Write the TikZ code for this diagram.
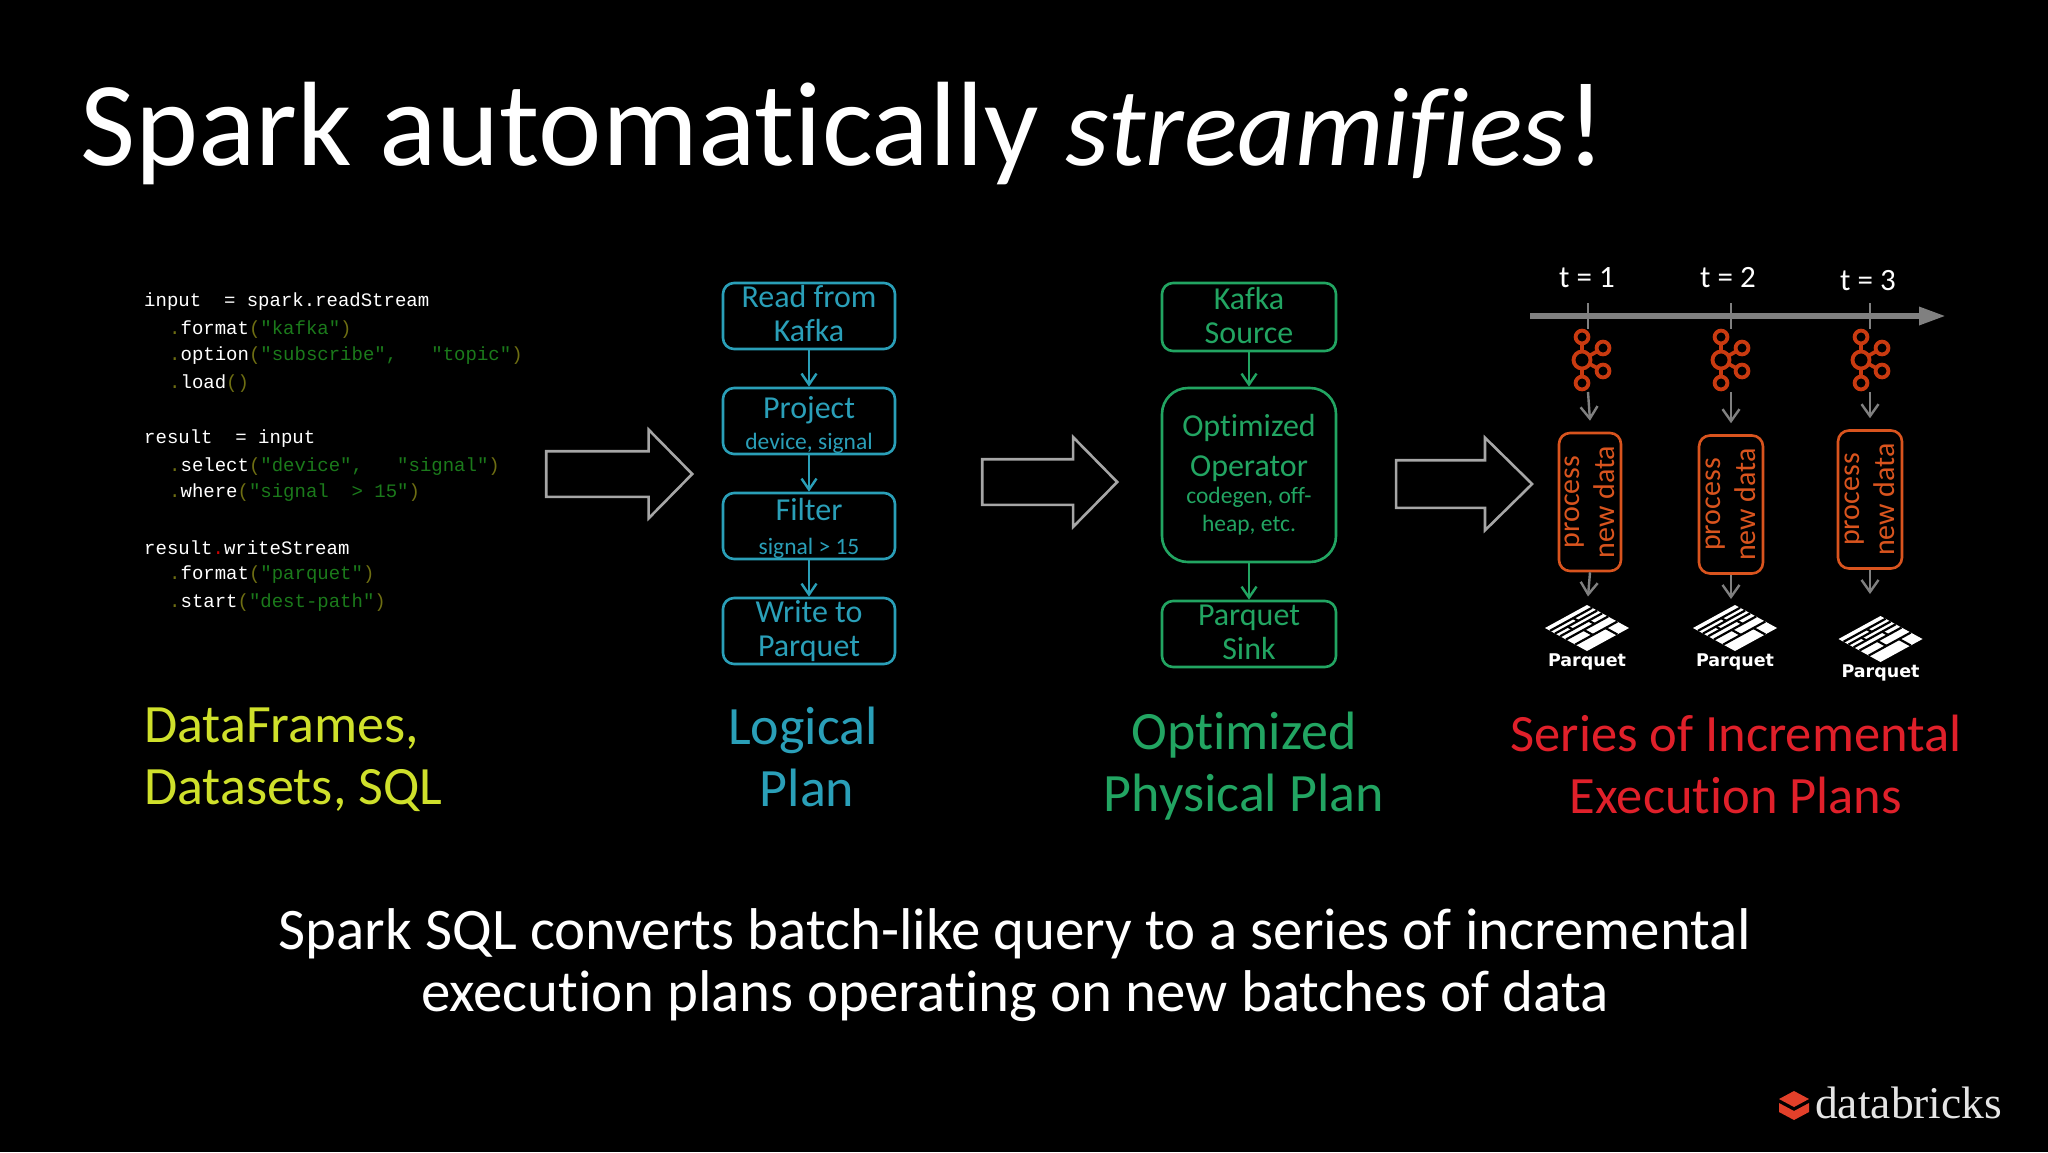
\documentclass[tikz,border=0pt]{standalone}
\usepackage{fontspec}
\setmainfont{Carlito}[Ligatures=NoCommon]
\newfontfamily\codefont{Liberation Mono}
\newfontfamily\pqfont{DejaVu Sans}
\newfontfamily\logofont{Liberation Serif}
\usepackage{xcolor}
\definecolor{lplan}{HTML}{2A9FB8}
\definecolor{pplan}{HTML}{22A562}
\definecolor{ylw}{HTML}{CFE02B}
\definecolor{iplan}{HTML}{E0202A}
\definecolor{org}{HTML}{D9541E}
\definecolor{kfk}{HTML}{C93A10}
\definecolor{str}{HTML}{1B7A1B}
\definecolor{par}{HTML}{6E6E12}
\definecolor{dbr}{HTML}{E2402A}
\usetikzlibrary{arrows.meta, positioning, calc, shapes.arrows}
\tikzstyle{lblock} = [draw=lplan, text=lplan, line width=2.6pt, rounded corners=11pt, minimum width=172pt, minimum height=66pt, inner sep=0pt, align=center, font=\fontsize{32}{34}\selectfont]
\tikzstyle{pblock} = [draw=pplan, text=pplan, line width=2.6pt, rounded corners=11pt, minimum width=174pt, minimum height=66pt, inner sep=0pt, align=center, font=\fontsize{32}{34}\selectfont]
\tikzstyle{iblock} = [draw=org, text=org, line width=2.6pt, rounded corners=11pt, rotate=90, minimum width=138pt, inner sep=0pt, align=center, font=\fontsize{30}{35}\selectfont]
\tikzstyle{conv} = [draw=black!35, line width=2.6pt, single arrow, single arrow head indent=0pt, inner sep=0pt, anchor=center]
\tikzstyle{big} = [align=center, inner sep=0pt]
\tikzstyle{code} = [font=\codefont\fontsize{19}{20}\selectfont, text=white, anchor=base west, inner sep=0pt]
\tikzstyle{flow} = [-{Straight Barb[length=11pt,width=15pt]}, line width=2.4pt]
\tikzstyle{tflow} = [-{Straight Barb[length=12pt,width=17pt]}, line width=2.4pt, draw=black!50]
\newcommand{\cs}[1]{\textcolor{str}{#1}}
\newcommand{\cp}[1]{\textcolor{par}{#1}}
\newcommand{\sml}[1]{{\fontsize{23.5}{27}\selectfont #1}}
\begin{document}
\begin{tikzpicture}[x=1pt,y=-1pt]
    \useasboundingbox (0,0) rectangle (2048,1152);
    \fill[black] (0,0) rectangle (2048,1152);

    % title
    \node[anchor=base west, inner sep=0pt, text=white, font=\fontsize{120}{120}\selectfont] (title) at (80,165)
    {Spark automatically {\fontsize{112}{120}\selectfont\textit{streamifies}}!};

    % code
    \node[code] (c1) at (144,306) {input~~=~spark.readStream};
    \node[code] (c2) at (169,334) {\cp{.}format\cp{(}\cs{"kafka"}\cp{)}};
    \node[code] (c3) at (169,360) {\cp{.}option\cp{(}\cs{"subscribe",~~~"topic"}\cp{)}};
    \node[code] (c4) at (169,388) {\cp{.}load\cp{()}};
    \node[code] (c5) at (144,443) {result~~=~input};
    \node[code] (c6) at (169,471) {\cp{.}select\cp{(}\cs{"device",~~~"signal"}\cp{)}};
    \node[code] (c7) at (169,497) {\cp{.}where\cp{(}\cs{"signal~~>~15"}\cp{)}};
    \node[code] (c8) at (144,554) {result\textcolor{red!80!black}{.}writeStream};
    \node[code] (c9) at (169,579) {\cp{.}format\cp{(}\cs{"parquet"}\cp{)}};
    \node[code] (c10) at (169,607) {\cp{.}start\cp{(}\cs{"dest-path"}\cp{)}};

    % big arrows
    \node[conv, minimum height=146pt, single arrow head extend=21.5pt, single arrow tip angle=91] (arr1) at (608,474) {\rule{0pt}{43pt}};
    \node[conv, minimum height=135pt, single arrow head extend=22pt, single arrow tip angle=91] (arr2) at (1038.5,482) {\rule{0pt}{43pt}};
    \node[conv, minimum height=136pt, single arrow head extend=22.5pt, single arrow tip angle=89] (arr3) at (1452,484) {\rule{0pt}{45pt}};

    % logical plan
    \node[lblock, text depth=6pt] (read) at (809,316) {Read from\\Kafka};
    \node[lblock, text height=62pt] (proj) at (809,421) {Project\\[-3pt]\sml{device, signal}};
    \node[lblock, text height=61pt] (filt) at (809,526) {Filter\\\sml{signal > 15}};
    \node[lblock] (writ) at (809,631) {Write to\\Parquet};
    \draw[flow, draw=lplan] (read) -- (proj);
    \draw[flow, draw=lplan] (proj) -- (filt);
    \draw[flow, draw=lplan] (filt) -- (writ);

    % physical plan
    \node[pblock, minimum height=68pt, text depth=4pt] (ksrc) at (1249,317) {Kafka\\Source};
    \node[pblock, minimum height=174pt, rounded corners=26pt, font=\fontsize{32}{40}\selectfont] (oper) at (1249,475)
    {Optimized\\Operator\\[-13pt]\sml{codegen, off-}\\[-12pt]\sml{heap, etc.}};
    \node[pblock, text depth=4pt] (sink) at (1249,634) {Parquet\\Sink};
    \draw[flow, draw=pplan] (ksrc) -- (oper);
    \draw[flow, draw=pplan] (oper) -- (sink);

    % timeline
    \coordinate (tl0) at (1530,316);
    \coordinate (tl1) at (1946,316);
    \draw[draw=black!50, line width=6pt, -{Triangle[length=27pt,width=17pt]}] (tl0) -- (tl1);

    % one batch per tick
    \foreach \tx/\t/\lx/\bx/\by/\kx/\px/\py in {1588/1/1587/1590/502/1582/1587/628, 1731/2/1728/1731/504.5/1721/1735/628, 1870/3/1868/1870/499.5/1861/1880.5/639} {
        \coordinate (tk\t a) at (\tx,303);
        \coordinate (tk\t b) at (\tx,329);
        \draw[draw=black!50, line width=2.4pt] (tk\t a) -- (tk\t b);
        \node[text=white, font=\fontsize{31}{31}\selectfont, inner sep=0pt] (lab\t) at (\lx,{\t==3 ? 281 : 278}) {t = \t};
        % kafka logo
        \coordinate (kfk\t) at (\tx,392);
        \begin{scope}[shift={(\kx,360)}, draw=kfk, line width=3.8pt]
            \draw (0,0) circle (8.5pt);
            \foreach \ox/\oy in {0/-23, 21/-12, 21/11, 0/23} {
                \draw ({\ox*0.37},{\oy*0.37}) -- ({\ox*0.72},{\oy*0.72});
                \draw (\ox,\oy) circle (6.4pt);
            }
        \end{scope}
        % process box
        \node[iblock, minimum height={\t==1 ? 62pt : 64pt}] (proc\t) at (\bx,\by) {process\\new data};
        \coordinate (out\t) at (\tx,{\by+94.5});
        \draw[tflow] (kfk\t) -- ($(proc\t.east)+(0,-11)$);
        \draw[tflow] (proc\t.west) -- (out\t);
        % parquet logo
        \begin{scope}[shift={(\px,\py)}]
            \fill[white] (-42,0) -- (0,-23) -- (42,0) -- (0,23) -- cycle;
            \foreach \s in {0.12,0.24,0.36,0.5,0.72}
                \draw[black, line width=2.2pt] ($(-42,0)!\s!(0,23)$) -- ($(0,-23)!\s!(42,0)$);
            \foreach \a/\b/\c in {0.12/0.24/0.55, 0.24/0.36/0.3, 0.36/0.5/0.68, 0.5/0.72/0.42, 0.72/1/0.72}
                \draw[black, line width=2.2pt]
                    ($($(-42,0)!\a!(0,23)$)!\c!($(0,-23)!\a!(42,0)$)$) -- ($($(-42,0)!\b!(0,23)$)!\c!($(0,-23)!\b!(42,0)$)$);
        \end{scope}
        \node[text=white, inner sep=0pt, font=\pqfont\bfseries\fontsize{17.5}{18}\selectfont] (pq\t) at (\px,{\py+34}) {Parquet};
    }

    % captions
    \node[big, text=ylw, align=left, anchor=west, font=\fontsize{54}{62}\selectfont] (cap1) at (144,760) {DataFrames,\\Datasets, SQL};
    \node[big, text=lplan, font=\fontsize{54}{62}\selectfont] (cap2) at (803,757) {Logical\\\hspace*{8pt}Plan};
    \node[big, text=pplan, font=\fontsize{54}{62}\selectfont] (cap3) at (1244,766) {Optimized\\Physical Plan};
    \node[big, text=iplan, font=\fontsize{52.5}{62}\selectfont] (cap4) at (1736,764) {Series of Incremental\\Execution Plans};

    % bottom line
    \node[big, text=white, font=\fontsize{58.9}{62.5}\selectfont] (sum) at (1015,965) {Spark SQL converts batch-like query to a series of incremental\\execution plans operating on new batches of data};

    % logo
    \fill[dbr] (1794,1091) -- (1809,1099) -- (1794,1107) -- (1779,1099) -- cycle;
    \fill[dbr] (1779,1103) -- (1794,1111) -- (1809,1103) -- (1809,1112) -- (1794,1120) -- (1779,1112) -- cycle;
    \node[anchor=base west, inner sep=0pt, text=white!90!black, font=\logofont\fontsize{45.5}{45}\selectfont] (logo) at (1815,1118) {databricks};
\end{tikzpicture}
\end{document}
